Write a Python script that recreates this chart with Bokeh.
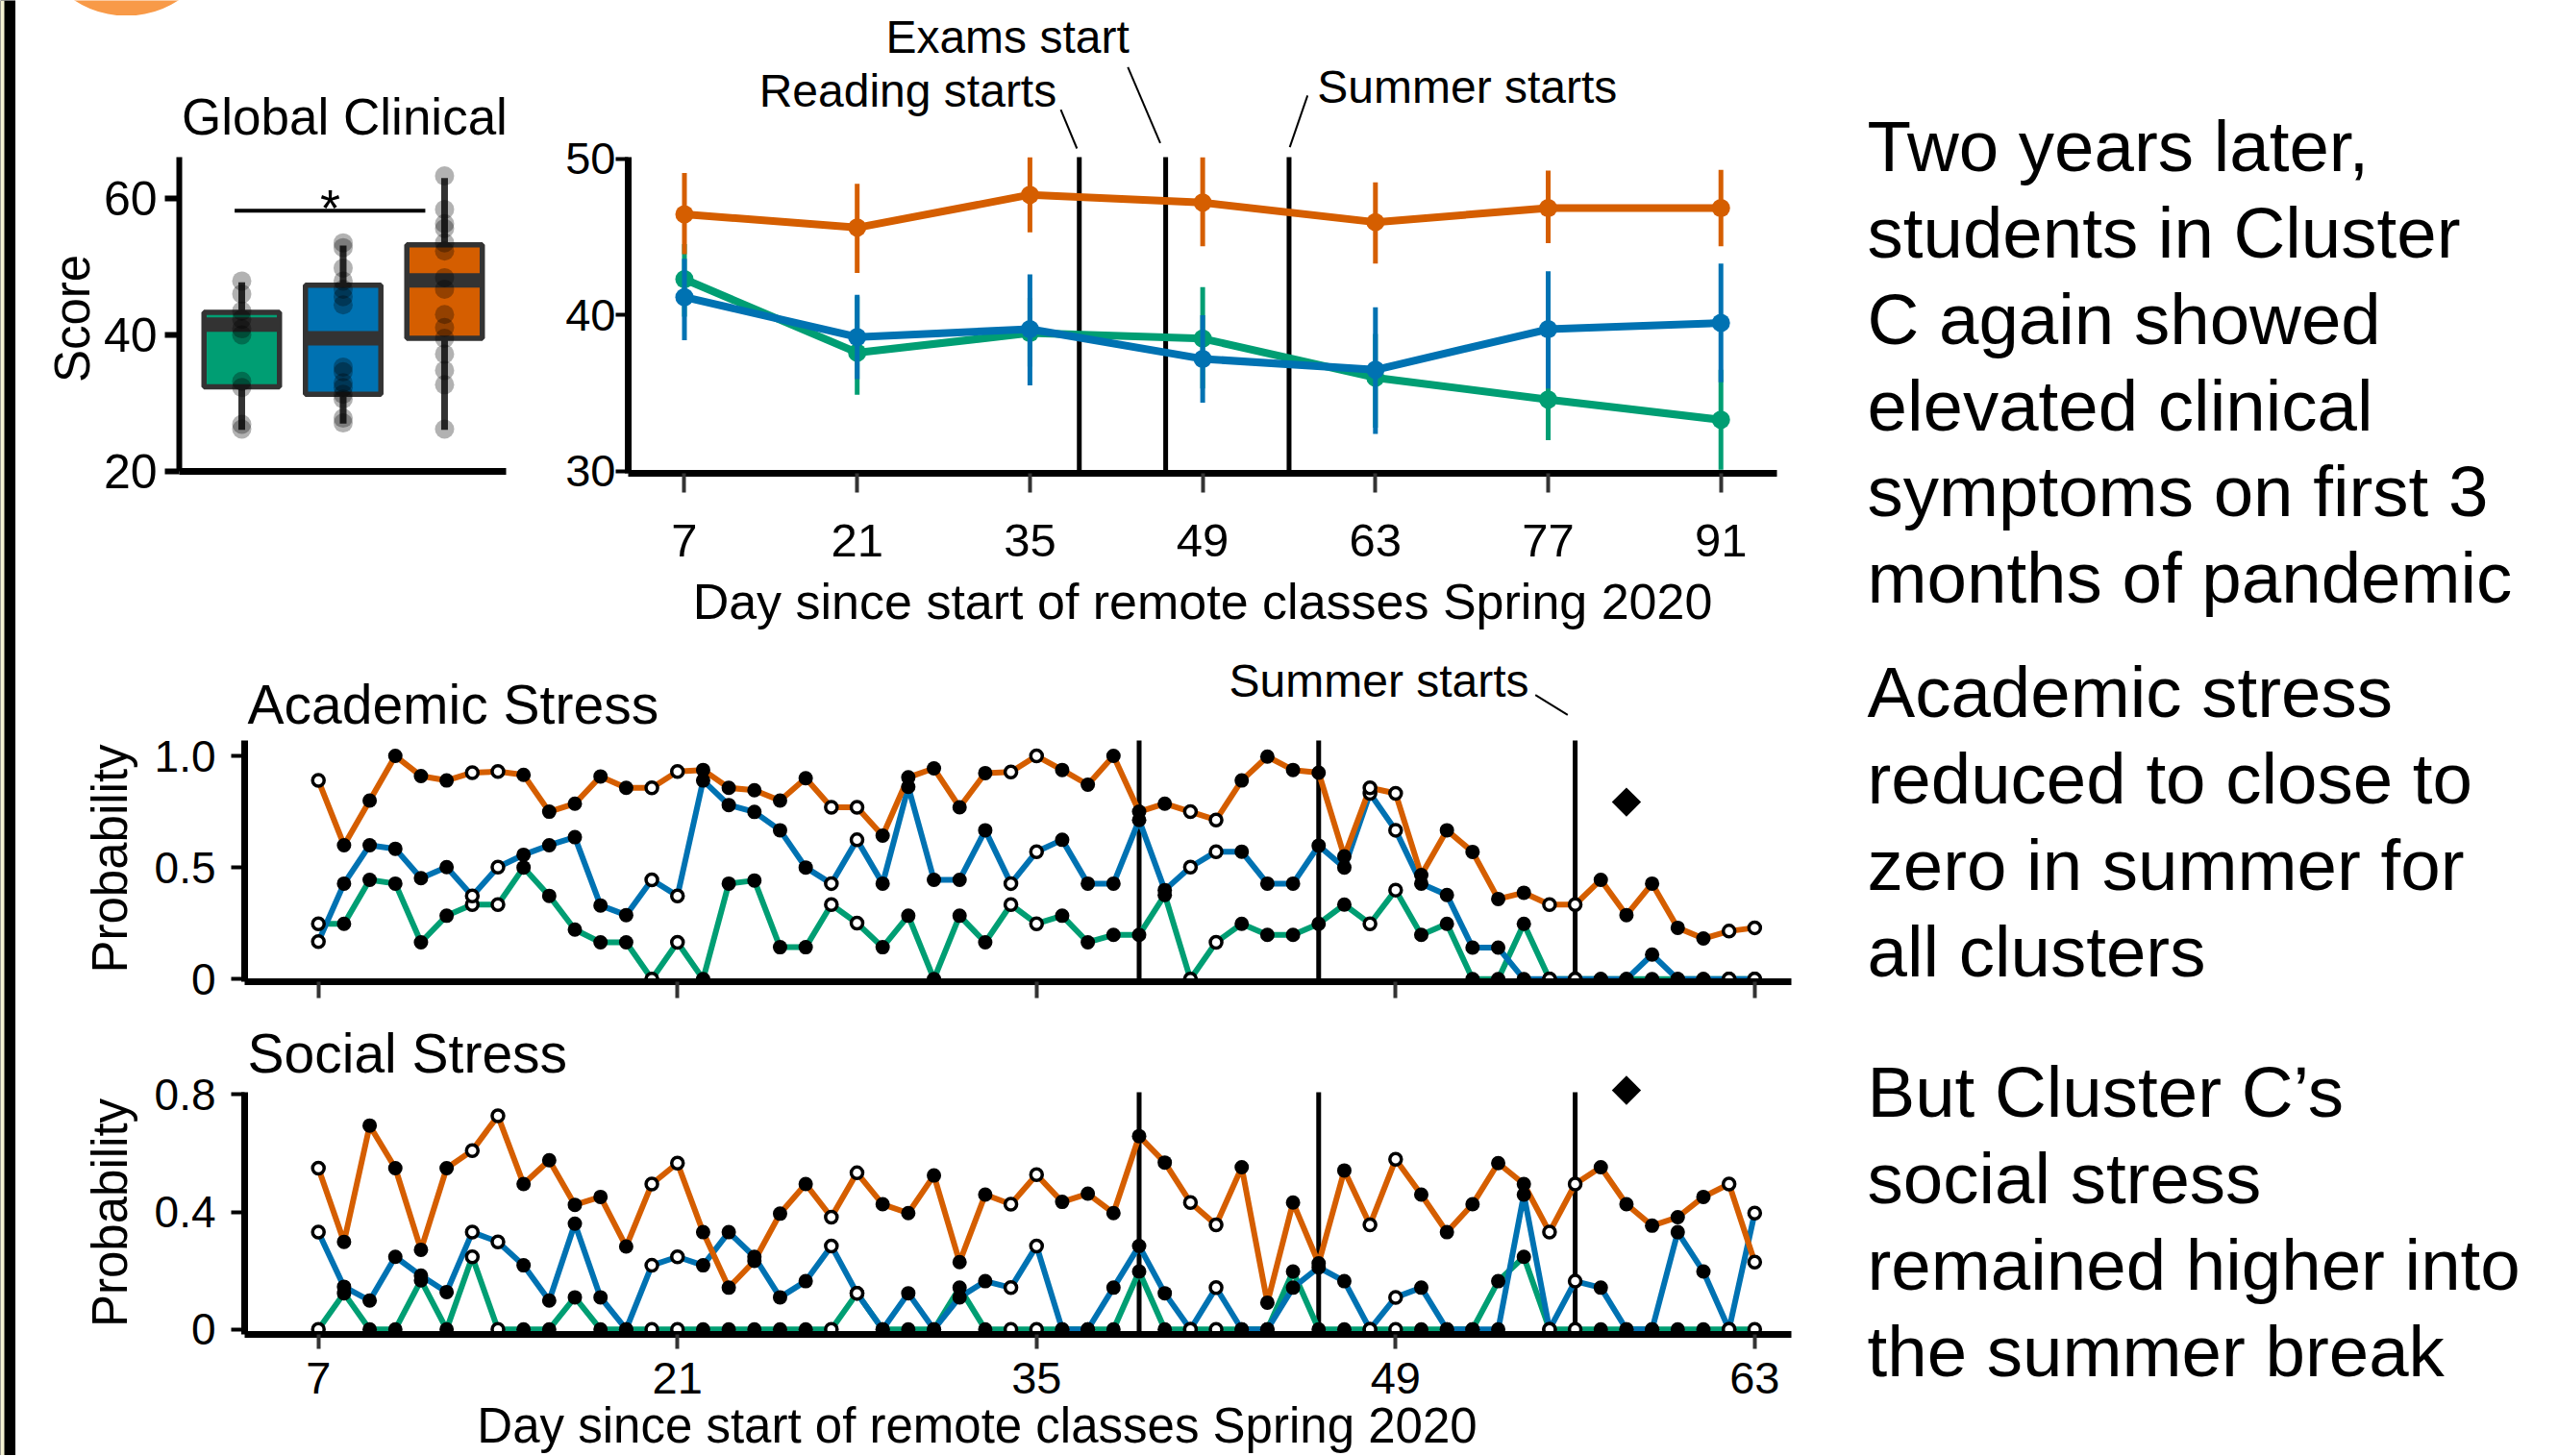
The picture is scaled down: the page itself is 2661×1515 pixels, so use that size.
from math import pi
from bokeh.plotting import figure
from bokeh.layouts import row, column
from bokeh.models import Range1d, Label, CustomJSTickFormatter
from bokeh.embed import file_html
from bokeh.resources import INLINE
from bokeh.core.validation import silence
from bokeh.core.validation.warnings import MISSING_RENDERERS

silence(MISSING_RENDERERS, True)

FONT = "Liberation Sans"
GREEN, BLUE, ORANGE, DARK = "#009E73", "#0072B2", "#D55E00", "#333333"
NBSP = "\u00a0"

# ---------------- data: Global Clinical boxplot ----------------
box_x = [1, 2, 3]
box_colors = [GREEN, BLUE, ORANGE]
box_q1 = [32.4, 31.3, 39.5]
box_q3 = [43.3, 47.3, 53.2]
box_median = [41.5, 39.5, 48.0]
box_whisker_lo = [26.1, 27.0, 26.1]
box_whisker_hi = [47.7, 53.1, 63.0]
scores_green = [47.9, 46.0, 43.5, 42.3, 40.9, 40.0, 33.2, 32.3, 26.9, 26.2]
scores_blue = [53.5, 52.8, 49.8, 47.9, 46.7, 45.6, 44.4, 35.3, 34.6, 33.0, 32.3, 31.3, 30.6, 27.8, 27.1]
scores_orange = [63.3, 58.4, 56.3, 55.6, 53.5, 52.3, 48.4, 46.7, 43.0, 41.1, 39.5, 37.2, 34.8, 32.7, 26.2]
sig_pair = [0.93, 2.81]
sig_level = 58.2

# ---------------- data: clinical score over visits ----------------
visit_days = [7, 21, 35, 49, 63, 77, 91]
clin_orange = [46.45, 45.6, 47.7, 47.2, 45.95, 46.85, 46.85]
clin_orange_lo = [43.9, 42.7, 45.3, 44.4, 43.3, 44.6, 44.4]
clin_orange_hi = [49.1, 48.4, 50.1, 50.1, 48.5, 49.25, 49.3]
clin_blue = [41.15, 38.6, 39.1, 37.2, 36.5, 39.1, 39.5]
clin_blue_lo = [38.4, 35.9, 35.5, 34.4, 32.4, 35.3, 35.7]
clin_blue_hi = [43.6, 41.3, 42.6, 40.0, 40.5, 42.8, 43.3]
clin_green = [42.3, 37.6, 38.85, 38.5, 36.0, 34.6, 33.3]
clin_green_lo = [39.9, 34.9, 36.7, 35.3, 32.8, 32.0, 30.1]
clin_green_hi = [44.55, 41.2, 41.1, 41.8, 38.8, 37.2, 36.5]
event_days = [39, 46, 56]
event_labels = ["Reading starts", "Exams start", "Summer starts"]

# ---------------- data: daily stress probabilities ----------------
days = list(range(7, 64))
open_days = [7, 13, 14, 20, 21, 27, 28, 34, 35, 41, 42, 48, 49, 55, 56, 62, 63]
acad_orange = [0.89, 0.60, 0.80, 1.0, 0.91, 0.89, 0.925,
               0.93, 0.915, 0.75, 0.786, 0.908, 0.857, 0.857,
               0.93, 0.937, 0.857, 0.846, 0.80, 0.90, 0.77,
               0.77, 0.643, 0.904, 0.944, 0.77, 0.923, 0.928,
               1.0, 0.937, 0.871, 1.0, 0.75, 0.786, 0.75,
               0.713, 0.89, 0.997, 0.937, 0.925, 0.55, 0.857,
               0.832, 0.466, 0.667, 0.57, 0.359, 0.387, 0.334,
               0.334, 0.445, 0.287, 0.428, 0.23, 0.182, 0.215,
               0.23]
acad_blue = [0.168, 0.428, 0.60, 0.584, 0.452, 0.502, 0.373,
             0.502, 0.557, 0.60, 0.636, 0.33, 0.287, 0.445,
             0.373, 0.89, 0.78, 0.749, 0.667, 0.50, 0.428,
             0.624, 0.428, 0.861, 0.445, 0.445, 0.667, 0.428,
             0.571, 0.624, 0.428, 0.428, 0.713, 0.399, 0.502,
             0.571, 0.571, 0.428, 0.428, 0.598, 0.50, 0.832,
             0.667, 0.428, 0.377, 0.141, 0.141, 0.0, 0.0,
             0.0, 0.0, 0.0, 0.11, 0.0, 0.0, 0.0,
             0.0]
acad_green = [0.248, 0.248, 0.445, 0.428, 0.165, 0.284, 0.334,
              0.334, 0.50, 0.373, 0.222, 0.165, 0.165, 0.0,
              0.165, 0.0, 0.428, 0.442, 0.143, 0.143, 0.334,
              0.251, 0.143, 0.284, 0.0, 0.284, 0.165, 0.334,
              0.248, 0.284, 0.165, 0.198, 0.198, 0.377, 0.0,
              0.165, 0.248, 0.198, 0.198, 0.248, 0.334, 0.248,
              0.399, 0.198, 0.248, 0.0, 0.0, 0.248, 0.0,
              0.0, 0.0, 0.0, 0.0, 0.0, 0.0, 0.0,
              0.0]
soc_orange = [0.549, 0.298, 0.694, 0.549, 0.271, 0.549, 0.609,
              0.727, 0.495, 0.576, 0.424, 0.451, 0.282, 0.495,
              0.566, 0.331, 0.142, 0.233, 0.394, 0.495, 0.382,
              0.533, 0.426, 0.396, 0.524, 0.229, 0.459, 0.426,
              0.527, 0.434, 0.462, 0.396, 0.658, 0.568, 0.432,
              0.356, 0.552, 0.091, 0.432, 0.225, 0.541, 0.356,
              0.579, 0.459, 0.331, 0.426, 0.566, 0.495, 0.331,
              0.495, 0.552, 0.426, 0.353, 0.382, 0.451, 0.495,
              0.229]
soc_blue = [0.331, 0.145, 0.098, 0.247, 0.183, 0.127, 0.331,
            0.298, 0.218, 0.098, 0.36, 0.109, 0.0, 0.218,
            0.247, 0.218, 0.331, 0.247, 0.109, 0.164, 0.284,
            0.123, 0.0, 0.123, 0.0, 0.109, 0.164, 0.142,
            0.284, 0.0, 0.0, 0.142, 0.284, 0.123, 0.0,
            0.142, 0.0, 0.0, 0.142, 0.211, 0.164, 0.0,
            0.109, 0.142, 0.0, 0.0, 0.0, 0.459, 0.0,
            0.164, 0.142, 0.0, 0.0, 0.331, 0.197, 0.0,
            0.396]
soc_green = [0.0, 0.123, 0.0, 0.0, 0.167, 0.0, 0.247,
             0.0, 0.0, 0.0, 0.109, 0.0, 0.0, 0.0,
             0.0, 0.0, 0.0, 0.0, 0.0, 0.0, 0.0,
             0.123, 0.0, 0.0, 0.0, 0.142, 0.0, 0.0,
             0.0, 0.0, 0.0, 0.0, 0.197, 0.0, 0.0,
             0.0, 0.0, 0.0, 0.197, 0.0, 0.0, 0.0,
             0.0, 0.0, 0.0, 0.0, 0.164, 0.247, 0.0,
             0.0, 0.0, 0.0, 0.0, 0.0, 0.0, 0.0,
             0.0]
day_ticks = [7, 21, 35, 49, 63]
diamond_day = [58]
acad_diamond = [0.793]
soc_diamond = [0.814]

text_block1 = ["Two years later,", "students in Cluster", "C again showed",
               "elevated clinical", "symptoms on first 3", "months of pandemic"]
text_block2 = ["Academic stress", "reduced to close to", "zero in summer for", "all clusters"]
text_block3 = ["But Cluster C\u2019s", "social stress", "remained higher into", "the summer break"]


# ---------------- helpers ----------------
def lin(p0, p1, v0, v1):
    """pixel -> data value along one axis of a panel"""
    return lambda px: v0 + (px - p0) * (v1 - v0) / (p1 - p0)


# calibration of each panel (pixel <-> data)
BOX_X = lin(186, 526, 0.384, 3.607)
BOX_Y = lin(490, 163, 20.0, 66.06)
LF_X = lin(653, 1848, 2.443, 95.54)
LF_Y = lin(492, 163, 29.877, 50.11)
AF_X = lin(254, 1863, 4.125, 64.43)
AF_Y = lin(1021, 770, -0.0116, 1.069)
SF_Y = lin(1388, 1136, -0.0173, 0.8075)


def make_fig(w, h, xr, yr, mb, axes=True):
    kw = {} if axes else dict(x_axis_location=None, y_axis_location=None)
    x_range = xr if isinstance(xr, Range1d) else Range1d(*xr)
    p = figure(width=w, height=h, x_range=x_range, y_range=Range1d(*yr),
               output_backend="svg", toolbar_location=None, title=None,
               min_border_left=mb[0], min_border_right=mb[1],
               min_border_top=mb[2], min_border_bottom=mb[3], **kw)
    p.grid.visible = False
    p.outline_line_color = None
    p.background_fill_color = "white"
    p.border_fill_color = "white"
    return p


def style_axis(ax, line_w=7, tick_out=15, tick_w=4, tick_color="black", size=48, standoff=10):
    ax.axis_line_width = line_w
    ax.axis_line_color = "black"
    ax.major_tick_out = tick_out
    ax.major_tick_in = 0
    ax.major_tick_line_width = tick_w
    ax.major_tick_line_color = tick_color
    ax.minor_tick_line_color = None
    ax.minor_tick_out = 0
    ax.major_label_text_font = FONT
    ax.major_label_text_font_size = f"{size}px"
    ax.major_label_text_color = "black"
    ax.major_label_standoff = standoff
    ax.axis_label_text_font = FONT
    ax.axis_label_text_font_style = "normal"
    ax.axis_label_text_color = "black"


def text_at(p, x, y_mid, text, size, align="left"):
    p.add_layout(Label(x=x, y=y_mid, text=text, text_font=FONT, text_font_size=f"{size}px",
                       text_align=align, text_baseline="middle", text_color="black"))


def mid(baseline_px, size):
    # vertical centre of the text box for a given baseline (pixels)
    return baseline_px - 0.3465 * size


def event_lines(p, lo, hi):
    p.segment(x0=event_days, y0=[lo] * len(event_days), x1=event_days, y1=[hi] * len(event_days),
              line_width=5, line_color="black")


# ---------------- left bar ----------------
bar = make_fig(16, 1514, (0, 16), (0, 1), (0, 0, 0, 0), axes=False)
bar.background_fill_color = "black"
bar.border_fill_color = "black"
bar.quad(left=[0], right=[4], bottom=[0], top=[1], fill_color="#F5F3D3", line_color=None)

# ---------------- Global Clinical boxplot ----------------
badge = make_fig(554, 16, (16, 570), (16, 0), (0, 0, 0, 0), axes=False)
badge.circle(x=[131], y=[-83], radius=99, fill_color="#F89A48", line_color=None)

bx = make_fig(554, 664, (0.384, BOX_X(530)), (20, BOX_Y(16)), (170, 40, 0, 190))
style_axis(bx.xaxis, line_w=7, tick_out=0, size=1)
bx.xaxis.ticker = []
bx.xaxis.bounds = (0.384, 3.607)
style_axis(bx.yaxis, line_w=6, tick_out=15, tick_w=6, size=50, standoff=8)
bx.yaxis.ticker = [20, 40, 60]
bx.yaxis.bounds = (20, 66.06)
bx.yaxis.axis_label = "Score" + NBSP * 11
bx.yaxis.axis_label_text_font_size = "51px"
bx.yaxis.axis_label_standoff = 1

bx.segment(x0=box_x, y0=box_whisker_lo, x1=box_x, y1=box_whisker_hi, line_width=7, line_color=DARK)
bx.vbar(x=box_x, bottom=box_q1, top=box_q3, width=0.744, fill_color=box_colors,
        line_color=DARK, line_width=5.5)
bx.rect(x=box_x, y=box_median, width=0.744, height=15, height_units="screen",
        fill_color=DARK, line_color=None)
for gx, pts in zip(box_x, [scores_green, scores_blue, scores_orange]):
    bx.scatter(x=[gx] * len(pts), y=pts, size=20, fill_color="black", fill_alpha=0.3, line_color=None)
bx.segment(x0=[sig_pair[0]], y0=[sig_level], x1=[sig_pair[1]], y1=[sig_level],
           line_width=4, line_color="black")
text_at(bx, BOX_X(343), BOX_Y(215), "*", 54, align="center")
text_at(bx, BOX_X(358), BOX_Y(mid(139, 53)), "Global Clinical", 53, align="center")

# ---------------- clinical over visits ----------------
lf = make_fig(1315, 680, (2.443, 95.54), (29.877, LF_Y(0)), (83, 37, 0, 188))
style_axis(lf.xaxis, line_w=7, tick_out=20, tick_w=4, tick_color=DARK, size=49, standoff=33)
lf.xaxis.ticker = visit_days
lf.xaxis.axis_label = "Day since start of remote classes Spring 2020"
lf.xaxis.axis_label_text_font_size = "52px"
lf.xaxis.axis_label_standoff = 15
style_axis(lf.yaxis, line_w=7, tick_out=13, tick_w=4, size=47, standoff=0)
lf.yaxis.ticker = [30, 40, 50]
lf.yaxis.bounds = (29.877, 50.11)

event_lines(lf, 29.877, 50.11)
for vals, lo, hi, col in [(clin_green, clin_green_lo, clin_green_hi, GREEN),
                          (clin_blue, clin_blue_lo, clin_blue_hi, BLUE),
                          (clin_orange, clin_orange_lo, clin_orange_hi, ORANGE)]:
    lf.segment(x0=visit_days, y0=lo, x1=visit_days, y1=hi, line_width=5, line_color=col)
    lf.line(visit_days, vals, line_width=8, line_color=col)
    lf.scatter(visit_days, vals, size=19, fill_color=col, line_color=None)

text_at(lf, LF_X(1098.7), LF_Y(mid(110.6, 48)), event_labels[0], 48, align="right")
text_at(lf, LF_X(1047.6), LF_Y(mid(54.2, 48)), event_labels[1], 48, align="center")
text_at(lf, LF_X(1369.8), LF_Y(mid(106.2, 48)), event_labels[2], 48, align="left")
lf.segment(x0=[LF_X(1103), LF_X(1172.8), LF_X(1359.7)],
           y0=[LF_Y(113.6), LF_Y(69.4), LF_Y(98.9)],
           x1=[LF_X(1119.8), LF_X(1206.5), LF_X(1341.2)],
           y1=[LF_Y(154), LF_Y(148.3), LF_Y(152.6)],
           line_width=2, line_color="black")

# ---------------- daily panels ----------------
prob_fmt = CustomJSTickFormatter(code="return tick == 0 ? '0' : tick.toFixed(1);")


def daily_panel(p, series, diamond_y, lo, hi):
    event_lines(p, lo, hi)
    for vals, col in series:
        p.line(days, vals, line_width=6, line_color=col)
    for vals, col in series:
        fx = [d for d in days if d not in open_days]
        fy = [v for d, v in zip(days, vals) if d not in open_days]
        ox = [d for d in days if d in open_days]
        oy = [v for d, v in zip(days, vals) if d in open_days]
        p.scatter(fx, fy, size=15, fill_color="black", line_color=None)
        p.scatter(ox, oy, size=12, fill_color="white", line_color="black", line_width=3.5)
    p.scatter(diamond_day, diamond_y, marker="square", angle=pi / 4, size=21.5,
              fill_color="black", line_color=None)


# Academic stress
af = make_fig(1869, 370, (4.125, 64.43), (-0.0116, AF_Y(680)), (238, 22, 0, 29))
style_axis(af.xaxis, line_w=7, tick_out=17, tick_w=4, tick_color=DARK, size=1, standoff=0)
af.xaxis.ticker = day_ticks
af.xaxis.major_label_text_color = None
style_axis(af.yaxis, line_w=7, tick_out=14, tick_w=4, size=46, standoff=16)
af.yaxis.ticker = [0, 0.5, 1.0]
af.yaxis.bounds = (-0.0116, 1.069)
af.yaxis.formatter = prob_fmt
af.yaxis.axis_label = "Probability" + NBSP * 6
af.yaxis.axis_label_text_font_size = "51px"
af.yaxis.axis_label_standoff = 15
daily_panel(af, [(acad_green, GREEN), (acad_blue, BLUE), (acad_orange, ORANGE)],
            acad_diamond, -0.0116, 1.069)
text_at(af, AF_X(257), AF_Y(mid(752.7, 57)), "Academic Stress", 57)
text_at(af, AF_X(1278), AF_Y(mid(725, 48)), "Summer starts", 48)
af.segment(x0=[AF_X(1596.7)], y0=[AF_Y(722.7)], x1=[AF_X(1630.3)], y1=[AF_Y(743.3)],
           line_width=2, line_color="black")

# Social stress
sf = make_fig(1869, 464, af.x_range, (-0.0173, SF_Y(1050)), (238, 22, 0, 126))
style_axis(sf.xaxis, line_w=7, tick_out=15, tick_w=4, tick_color=DARK, size=47, standoff=14)
sf.xaxis.ticker = day_ticks
sf.xaxis.axis_label = "Day since start of remote classes Spring 2020" + NBSP * 6
sf.xaxis.axis_label_text_font_size = "51px"
sf.xaxis.axis_label_standoff = 2
style_axis(sf.yaxis, line_w=7, tick_out=14, tick_w=4, size=46, standoff=16)
sf.yaxis.ticker = [0, 0.4, 0.8]
sf.yaxis.bounds = (-0.0173, 0.8075)
sf.yaxis.formatter = prob_fmt
sf.yaxis.axis_label = "Probability" + NBSP * 6
sf.yaxis.axis_label_text_font_size = "51px"
sf.yaxis.axis_label_standoff = 15
daily_panel(sf, [(soc_green, GREEN), (soc_blue, BLUE), (soc_orange, ORANGE)],
            soc_diamond, -0.0173, 0.8075)
text_at(sf, AF_X(257), SF_Y(mid(1115, 57)), "Social Stress", 57)

# ---------------- right-hand text ----------------
tf = make_fig(775, 1514, (0, 775), (1514, 0), (0, 0, 0, 0), axes=False)
for block, base0 in [(text_block1, 178), (text_block2, 746), (text_block3, 1162)]:
    for i, line in enumerate(block):
        text_at(tf, 57, mid(base0 + 89.8 * i, 74.5), line, 74.5)

# ---------------- layout ----------------
left = column(row(column(row(badge), bx), lf), af, sf)
p = row(bar, left, tf)

open("out.html", "w").write(file_html(p, INLINE))
